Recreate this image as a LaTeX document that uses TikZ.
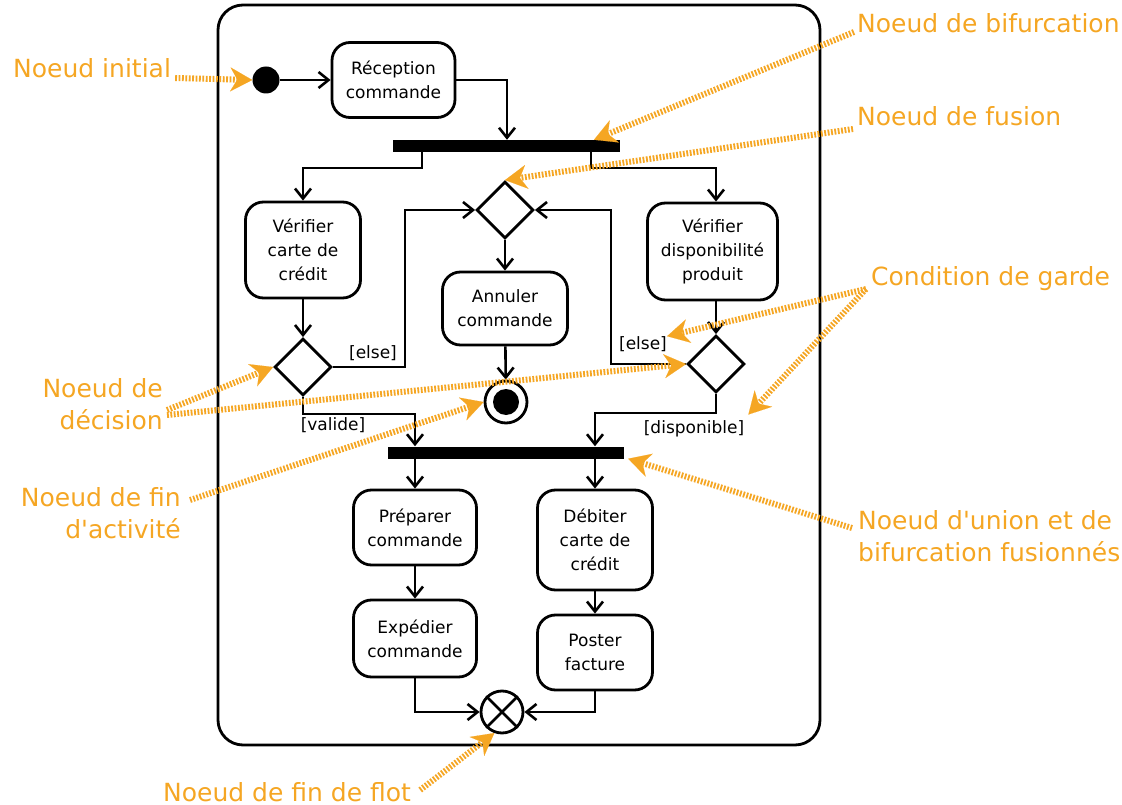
\documentclass[tikz,border=0pt]{standalone}
\usepackage{fontspec}
\setmainfont{DejaVu Sans}
\usetikzlibrary{arrows.meta,shapes.geometric}
\definecolor{annot}{RGB}{245,166,35}
\begin{document}
\begin{tikzpicture}[x=1pt,y=-1pt,
  act/.style={draw,line width=2.8pt,rounded corners=18pt,align=center,inner sep=0pt,
    font=\fontsize{17}{24}\selectfont},
  bar/.style={fill=black,inner sep=0pt},
  decision/.style={draw,diamond,aspect=1,line width=2.8pt,inner sep=0pt,minimum size=57pt},
  flow/.style={line width=2.6pt,-{Straight Barb[length=10pt,width=16pt]}},
  guard/.style={font=\fontsize{17}{20}\selectfont,inner sep=0pt},
  note/.style={text=annot,font=\fontsize{25}{32}\selectfont,inner sep=0pt},
  pointer/.style={draw=annot,line width=6pt,dash pattern=on 1.8pt off 1.6pt,
    -{Stealth[length=22pt,width=24pt,inset=7pt,line width=0.1pt,fill=annot]}}
]
\useasboundingbox (0,0) rectangle (1122,805);

% activity frame
\draw[line width=2.8pt,rounded corners=25pt] (218,5) rectangle (820,745);

% actions
\node[act,minimum width=123pt,minimum height=75pt] (rec) at (393.5,80) {Réception\\commande};
\node[act,minimum width=115pt,minimum height=96pt] (vcc) at (303,250) {Vérifier\\carte de\\crédit};
\node[act,minimum width=130pt,minimum height=97pt] (vdp) at (712.5,251.5) {Vérifier\\disponibilité\\produit};
\node[act,minimum width=125pt,minimum height=73pt] (ann) at (505,308.5) {Annuler\\commande};
\node[act,minimum width=123pt,minimum height=75pt] (prep) at (415,527.5) {Préparer\\commande};
\node[act,minimum width=115pt,minimum height=100pt] (deb) at (595,540) {Débiter\\carte de\\crédit};
\node[act,minimum width=123pt,minimum height=77pt] (exp) at (415,638.5) {Expédier\\commande};
\node[act,minimum width=115pt,minimum height=75pt] (post) at (595,652.5) {Poster\\facture};

% fork / join bars
\node[bar,minimum width=227pt,minimum height=12pt] (fork1) at (506.5,146) {};
\node[bar,minimum width=236pt,minimum height=12pt] (join2) at (506,452.5) {};

% decision / merge nodes
\node[decision] (merge) at (505,210) {};
\node[decision] (dec1) at (303,367) {};
\node[decision] (dec2) at (716,364) {};

% initial, activity final and flow final nodes
\node[circle,fill=black,inner sep=0pt,minimum size=27pt] (init) at (266,80) {};
\node[circle,draw,line width=2.8pt,inner sep=0pt,minimum size=42pt] (fin) at (506,402) {};
\node[circle,fill=black,inner sep=0pt,minimum size=26pt] (finin) at (fin) {};
\node[circle,draw,line width=2.8pt,inner sep=0pt,minimum size=42pt] (ff) at (502,712) {};
\draw[line width=2.8pt] (ff.north west) -- (ff.south east) (ff.north east) -- (ff.south west);

% control flows
\draw[flow] (init) -- (rec);
\draw[flow] (rec.east) -| ([xshift=0.5pt]fork1.north);
\draw[flow] ([xshift=-84.5pt]fork1.south) -- ++(0,16) -| (vcc.north);
\draw[flow] ([xshift=84.5pt]fork1.south) -- ++(0,16) -| (dec2.north |- vdp.north);
\draw[flow] (merge) -- (ann);
\draw[flow] (ann) -- (fin);
\draw[flow] (vcc) -- (dec1);
\draw[flow] (dec2.north |- vdp.south) -- (dec2.north);
\draw[flow] (dec1.east) -- ++(72,0) |- (merge.west);
\draw[flow] (dec2.west) -- ++(-75,0) |- (merge.east);
\draw[flow] (dec1.south) -- ++(0,17) -| ([xshift=-91pt]join2.north);
\draw[flow] (dec2.south) -- ++(0,19) -| ([xshift=89pt]join2.north);
\draw[flow] ([xshift=-91pt]join2.south) -- (prep.north);
\draw[flow] ([xshift=89pt]join2.south) -- (deb.north);
\draw[flow] (prep) -- (exp);
\draw[flow] (deb) -- (post);
\draw[flow] (exp.south) |- (ff.west);
\draw[flow] (post.south) |- (ff.east);

% guards
\node[guard] (g1) at (373,353) {[else]};
\node[guard] (g2) at (333,425) {[valide]};
\node[guard] (g3) at (643,344) {[else]};
\node[guard] (g4) at (694,429) {[disponible]};

% annotations
\node[note,anchor=base west] (nInit) at (13,78) {Noeud initial};
\node[note,anchor=base west] (nBif) at (857,33) {Noeud de bifurcation};
\node[note,anchor=base west] (nFus) at (857,126) {Noeud de fusion};
\node[note,anchor=base west] (nGarde) at (871,285) {Condition de garde};
\node[note,align=right,anchor=east] (nDec) at (163,404) {Noeud de\\décision};
\node[note,align=right,anchor=east] (nFinAct) at (181,513) {Noeud de fin\\d\textquotesingle activité};
\node[note,align=left,anchor=west] (nUnion) at (858,536) {Noeud d\textquotesingle union et de\\bifurcation fusionnés};
\node[note,anchor=base west] (nFlot) at (163,801) {Noeud de fin de flot};

\draw[pointer] ([xshift=4pt]nInit.base east) -- (init.west);
\draw[pointer] ([shift={(-3,-1)}]nBif.base west) -- ([xshift=87.5pt]fork1.north);
\draw[pointer] ([shift={(-4,3)}]nFus.base west) -- (merge.north);
\draw[pointer] ([shift={(-5,4)}]nGarde.base west) -- (g3.north east);
\draw[pointer] ([shift={(-5,4)}]nGarde.base west) -- ([shift={(4,-6)}]g4.north east);
\draw[pointer] ([shift={(4,6)}]nDec.east) -- (dec1.west);
\draw[pointer] ([shift={(4,11)}]nDec.east) -- (dec2.west);
\draw[pointer] ([shift={(9,-13)}]nFinAct.east) -- (fin.west);
\draw[pointer] ([shift={(-6,-8)}]nUnion.west) -- ([xshift=4pt]join2.south east);
\draw[pointer] ([shift={(9,-11)}]nFlot.base east) -- (ff.250);
\end{tikzpicture}
\end{document}
